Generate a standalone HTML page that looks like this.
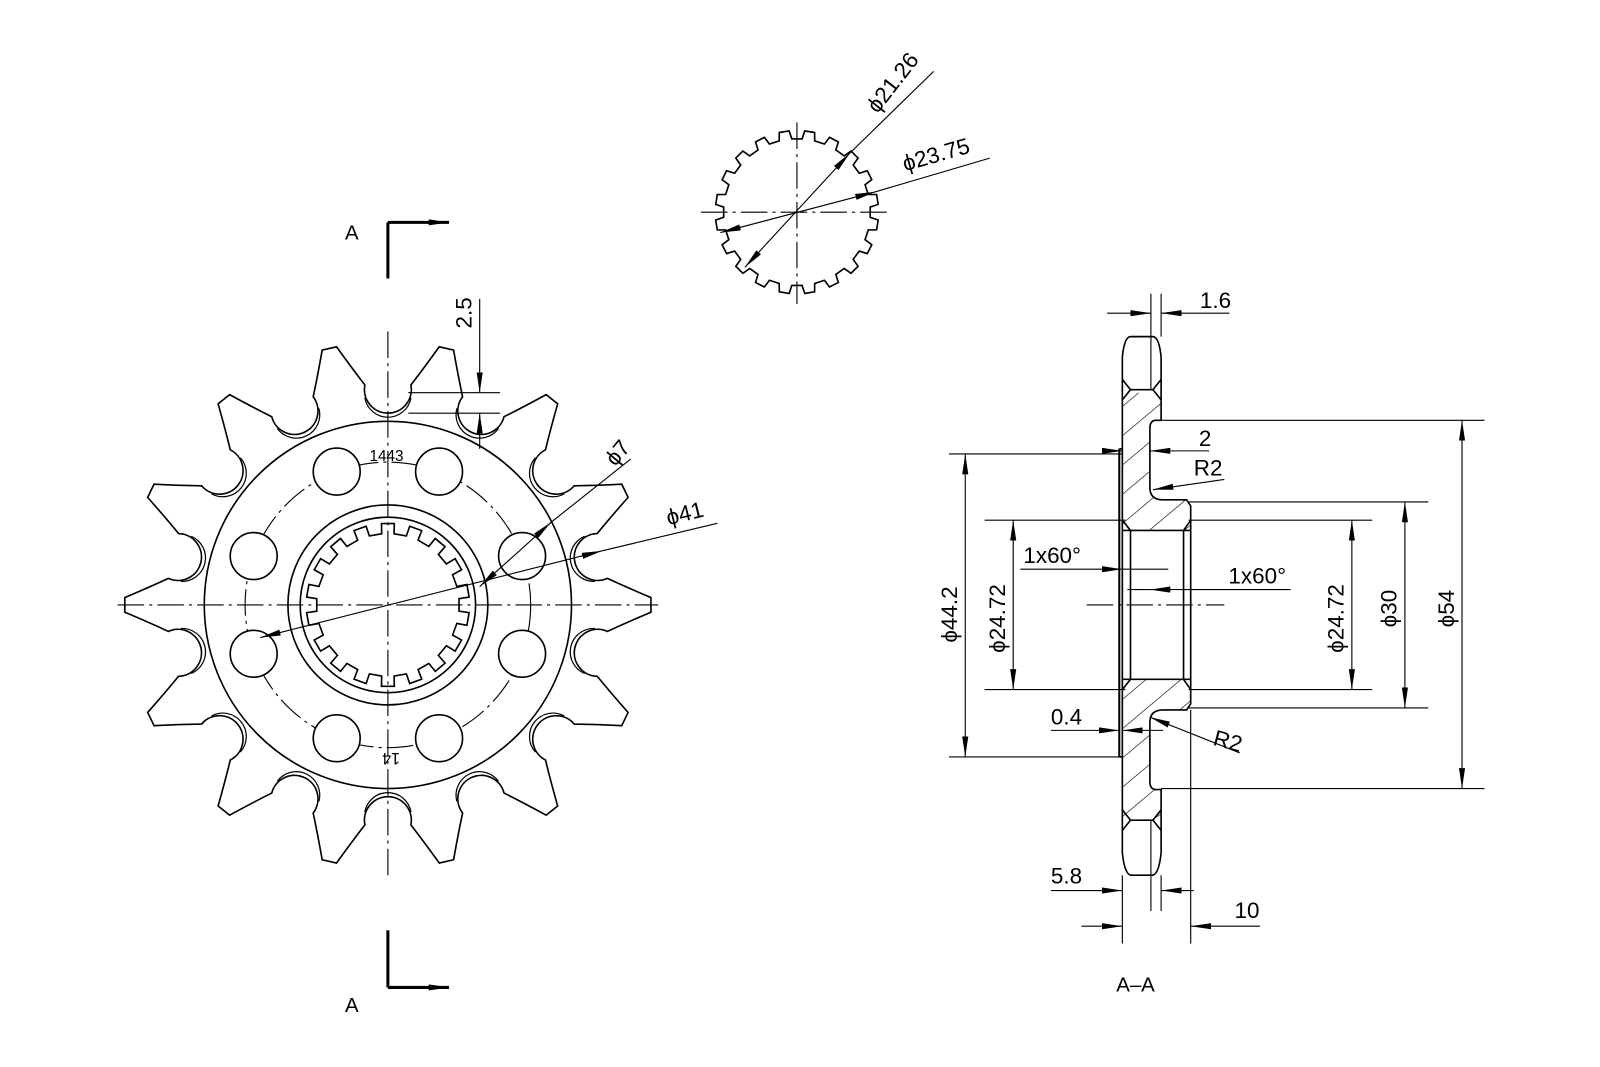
<!DOCTYPE html>
<html><head><meta charset="utf-8"><style>
html,body{margin:0;padding:0;background:#fff;}
svg{display:block}
text{font-family:"Liberation Sans",sans-serif;fill:#000}
</style></head><body>
<svg id="s" width="1600" height="1067" viewBox="0 0 1568 1046" xmlns="http://www.w3.org/2000/svg">
<defs>
<marker id="ae" viewBox="0 0 20 6" refX="20" refY="3" markerWidth="20" markerHeight="6" markerUnits="userSpaceOnUse" orient="auto"><path d="M0,0 L20,3 L0,6 Z" fill="#000"/></marker>
<marker id="as" viewBox="0 0 20 6" refX="0" refY="3" markerWidth="20" markerHeight="6" markerUnits="userSpaceOnUse" orient="auto"><path d="M20,0 L0,3 L20,6 Z" fill="#000"/></marker>
<pattern id="h" patternUnits="userSpaceOnUse" width="22" height="22" patternTransform="rotate(-40)"><line x1="0" y1="0" x2="22" y2="0" stroke="#000" stroke-width="1.3"/></pattern>
</defs>
<g id="g" fill="none" stroke="#000" stroke-width="1.6"></g>
<g id="t"></g>
</svg>
<script>
var g=document.getElementById('g'),T=document.getElementById('t');
var NS='http://www.w3.org/2000/svg';
function el(tag,a,par){var e=document.createElementNS(NS,tag);for(var k in a)e.setAttribute(k,a[k]);(par||g).appendChild(e);return e;}
function P(cx,cy,r,deg){var a=deg*Math.PI/180;return [cx+r*Math.cos(a),cy+r*Math.sin(a)];}
function f(p){return p[0].toFixed(2)+','+p[1].toFixed(2);}
function line(x1,y1,x2,y2,o){var a={x1:x1,y1:y1,x2:x2,y2:y2};for(var k in o)a[k]=o[k];return el('line',a);}
function cl(x1,y1,x2,y2){return line(x1,y1,x2,y2,{'stroke-width':1.1,'stroke-dasharray':'26 5 3 5'});}
function thin(x1,y1,x2,y2){return line(x1,y1,x2,y2,{'stroke-width':1.1});}
function dim(x1,y1,x2,y2,s,e){var o={'stroke-width':1.1};if(s)o['marker-start']='url(#as)';if(e)o['marker-end']='url(#ae)';return line(x1,y1,x2,y2,o);}
function txt(x,y,s,size,rot,extra){var e=el('text',{x:x,y:y,'font-size':size||22},T);if(rot)e.setAttribute('transform','rotate('+rot+' '+x+' '+y+')');if(extra)for(var k in extra)e.setAttribute(k,extra[k]);e.textContent=s;return e;}

// ---------- main sprocket ----------
var cx=380,cy=593;
var d='',N=14,st=360/N,RC=211,RR=23;
for(var k=0;k<N;k++){
  var t=k*st;
  var p1=P(cx,cy,258,t-1.6),p2=P(cx,cy,258,t+1.6);
  var phi=t+st/2, C=P(cx,cy,RC,phi);
  var a=phi*Math.PI/180,u=[Math.cos(a),Math.sin(a)],v=[-Math.sin(a),Math.cos(a)];
  var A=[C[0]+RR*(0.2*u[0]-0.98*v[0]),C[1]+RR*(0.2*u[1]-0.98*v[1])];
  var B=[C[0]+RR*(0.2*u[0]+0.98*v[0]),C[1]+RR*(0.2*u[1]+0.98*v[1])];
  var m1=P(cx,cy,234,t+4.3),m2=P(cx,cy,234,t+st-4.3);
  d+=(k==0?'M':'L')+f(p1)+' L'+f(p2)+' Q'+f(m1)+' '+f(A)+' A'+RR+','+RR+' 0 1 0 '+f(B)+' Q'+f(m2)+' '+f(P(cx,cy,258,t+st-1.6))+' ';
}
el('path',{d:d+'Z',fill:'#fff'});
for(var k=0;k<N;k++){var phi=k*st+st/2;var C=P(cx,cy,RC-4,phi);
  var a1=P(C[0],C[1],RR,phi+100),a2=P(C[0],C[1],RR,phi-100);
  el('path',{d:'M'+f(a1)+' A'+RR+','+RR+' 0 0 1 '+f(a2),'stroke-width':1.2});}
el('circle',{cx:cx,cy:cy,r:180});
el('circle',{cx:cx,cy:cy,r:140,'stroke-width':1.1,'stroke-dasharray':'26 5 3 5'});
[20,69,111,160,200,249,291,340].forEach(function(an){var c=P(cx,cy,140,an);el('circle',{cx:c[0],cy:c[1],r:23,fill:'#fff'});});
el('circle',{cx:cx,cy:cy,r:98});
el('circle',{cx:cx,cy:cy,r:86});
var sd='';for(var i=0;i<18;i++){var a0=i*20+10;sd+=(i?'L':'M')+f(P(cx,cy,70,a0-5))+' L'+f(P(cx,cy,80,a0-4.5))+' L'+f(P(cx,cy,80,a0+4.5))+' L'+f(P(cx,cy,70,a0+5))+' L'+f(P(cx,cy,70,a0+15))+' ';}
el('path',{d:sd+'Z'});
cl(380,325,380,862);cl(115,593,645,593);
txt(362,452,'1443',15);
txt(392,738,'14',16,180);
thin(400,385,490,385);thin(400,405,490,405);
dim(470,293,470,385,false,true);dim(470,440,470,405,false,true);
txt(462,322,'2.5',22,-90);
dim(470,575,540,512,true,true);thin(540,512,618,450);
txt(603,458,'ϕ7',22,-50);
dim(255,625,590,540,true,true);thin(590,540,703,513);
txt(655,515,'ϕ41',22,-14);
line(380,218,380,273,{'stroke-width':3});line(380,218,440,218,{'stroke-width':3,'marker-end':'url(#ae)'});
line(380,912,380,968,{'stroke-width':3});line(380,968,440,968,{'stroke-width':3,'marker-end':'url(#ae)'});
txt(338,235,'A',20,0,{'font-family':'Liberation Serif, serif'});
txt(338,992,'A',20,0,{'font-family':'Liberation Serif, serif'});

// ---------- small spline ----------
var sx=781,sy=208,sp='';
for(var i=0;i<20;i++){var a0=i*18+9;sp+=(i?'L':'M')+f(P(sx,sy,72,a0-5))+' L'+f(P(sx,sy,80,a0-3.5))+' L'+f(P(sx,sy,80,a0+3.5))+' L'+f(P(sx,sy,72,a0+5))+' L'+f(P(sx,sy,72,a0+13))+' ';}
el('path',{d:sp+'Z'});
cl(687,208,872,208);cl(781,120,781,298);
dim(730,262,833,150,true,true);thin(833,150,915,70);
txt(860,112,'ϕ21.26',22,-52);
dim(706,228,858,188,true,true);thin(858,188,970,155);
txt(887,168,'ϕ23.75',22,-16);

// ---------- section ----------
var up='M1100,385 L1138,385 L1138,412 L1133,412 Q1127,412 1127,420 L1127,478 Q1127,490 1140,490 L1163,490 L1167,496 L1167,520 L1100,520 Z';
var lo='M1100,801 L1138,801 L1138,774 L1133,774 Q1127,774 1127,766 L1127,708 Q1127,696 1140,696 L1163,696 L1167,690 L1167,666 L1100,666 Z';
el('path',{d:up,fill:'url(#h)',stroke:'none'});el('path',{d:lo,fill:'url(#h)',stroke:'none'});
el('path',{d:'M1100,350 Q1102,330 1108,330 L1130,330 Q1136,330 1138,350 L1138,412 L1133,412 Q1127,412 1127,420 L1127,478 Q1127,490 1140,490 L1163,490 L1167,496 L1167,690 L1163,696 L1140,696 Q1127,696 1127,708 L1127,766 Q1127,774 1133,774 L1138,774 L1138,836 Q1136,856 1130,858 L1108,858 Q1102,856 1100,836 Z'});
el('path',{d:'M1100,372 L1108,382 L1130,382 L1138,372 M1100,392 L1108,382 M1138,392 L1130,382'});
el('path',{d:'M1100,814 L1108,804 L1130,804 L1138,814 M1100,794 L1108,804 M1138,794 L1130,804'});
el('path',{d:'M1108,520 L1160,520 L1160,666 L1108,666 Z M1100,510 L1108,520 M1167,510 L1160,520 M1100,676 L1108,666 M1167,676 L1160,666 M1100,520 L1108,520 M1160,520 L1167,520 M1100,666 L1108,666 M1160,666 L1167,666'});
line(1097,440,1097,742,{'stroke-width':2});
line(1097,440,1100,440);line(1097,742,1100,742);
thin(1128,288,1128,382);thin(1138,288,1138,330);
thin(1128,804,1128,893);thin(1138,858,1138,893);
thin(1100,858,1100,925);thin(1167,696,1167,925);
thin(1138,412,1455,412);thin(1138,773,1455,773);
thin(1165,492,1400,492);thin(1165,694,1400,694);
thin(965,510,1103,510);thin(1165,510,1345,510);
thin(965,676,1103,676);thin(1165,676,1345,676);
thin(930,445,1100,445);thin(930,742,1100,742);
dim(946,445,946,742,true,true);dim(993,510,993,676,true,true);
dim(1325,510,1325,676,true,true);dim(1377,492,1377,694,true,true);dim(1433,412,1433,773,true,true);
txt(938,630,'ϕ44.2',22,-90);txt(985,640,'ϕ24.72',22,-90);
txt(1317,640,'ϕ24.72',22,-90);txt(1369,615,'ϕ30',22,-90);txt(1425,615,'ϕ54',22,-90);
dim(1085,307,1128,307,false,true);dim(1205,307,1138,307,false,true);
txt(1176,302,'1.6',22);
dim(1085,442,1100,442,false,true);dim(1185,442,1127,442,false,true);
txt(1175,437,'2',22);
dim(1200,470,1130,480,false,true);
txt(1170,466,'R2',22);
dim(1000,558,1100,558,false,true);thin(1100,558,1145,558);
txt(1003,552,'1x60°',22);
dim(1265,578,1127,578,false,true);thin(1127,578,1105,578);
txt(1204,572,'1x60°',22);
cl(1065,593,1200,593);
dim(1030,716,1097,716,false,true);dim(1140,716,1100,716,false,true);
txt(1030,710,'0.4',22);
dim(1215,738,1127,703,false,true);
txt(1188,730,'R2',22,15);
dim(1030,873,1100,873,false,true);dim(1170,873,1138,873,false,true);
txt(1030,866,'5.8',22);
dim(1060,908,1100,908,false,true);dim(1235,908,1167,908,false,true);
txt(1210,900,'10',22);
txt(1094,972,'A–A',20,0,{'font-family':'Liberation Serif, serif'});
</script>
</body></html>
